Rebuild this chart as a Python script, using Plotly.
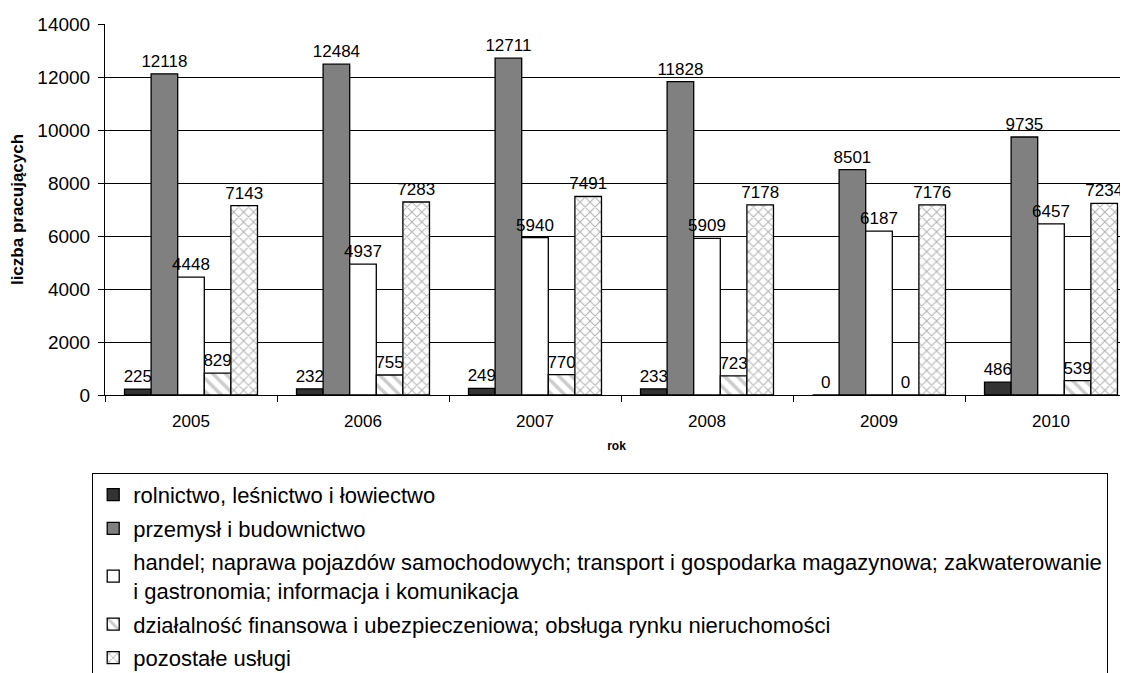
import plotly.graph_objects as go

years = ["2005", "2006", "2007", "2008", "2009", "2010"]
names = [
    "rolnictwo, leśnictwo i łowiectwo",
    "przemysł i budownictwo",
    "handel; naprawa pojazdów samochodowych; transport i gospodarka magazynowa; zakwaterowanie<br>i gastronomia; informacja i komunikacja",
    "działalność finansowa i ubezpieczeniowa; obsługa rynku nieruchomości",
    "pozostałe usługi",
]
rolnictwo = [225, 232, 249, 233, 0, 486]
przemysl = [12118, 12484, 12711, 11828, 8501, 9735]
handel = [4448, 4937, 5940, 5909, 6187, 6457]
finanse = [829, 755, 770, 723, 0, 539]
pozostale = [7143, 7283, 7491, 7178, 7176, 7234]
y_ticks = [0, 2000, 4000, 6000, 8000, 10000, 12000, 14000]

series = [rolnictwo, przemysl, handel, finanse, pozostale]
styles = [
    dict(color="#333333"),
    dict(color="#808080"),
    dict(color="#ffffff"),
    dict(color="#ffffff", pattern=dict(shape="\\", fgcolor="#9a9a9a", bgcolor="#ffffff", size=9, solidity=0.4)),
    dict(color="#ffffff", pattern=dict(shape="x", fgcolor="#666666", bgcolor="#ffffff", size=7, solidity=0.28)),
]

FONT = "Liberation Sans, Arial, sans-serif"

fig = go.Figure()
for i, (nm, vals, st) in enumerate(zip(names, series, styles)):
    fig.add_trace(go.Bar(
        x=years, y=vals, name=nm,
        legendgroup=f"g{i}",
        marker=dict(line=dict(color="#000000", width=1.3), **st),
        text=[str(v) for v in vals],
        textposition="outside",
        textfont=dict(size=17, color="#000000", family=FONT),
        constraintext="none",
        cliponaxis=False,
    ))

# page body has an 8px margin, so the figure is offset by 8px
fig.update_layout(
    width=1120, height=665,
    margin=dict(l=97, r=0, t=16, b=278, autoexpand=False),
    paper_bgcolor="#ffffff", plot_bgcolor="#ffffff",
    font=dict(family=FONT, color="#000000"),
    barmode="group", bargap=0.227, bargroupgap=0,
    showlegend=True,
    legend=dict(
        x=-0.0125, y=-0.21, xanchor="left", yanchor="top",
        bordercolor="#000000", borderwidth=1, bgcolor="#ffffff",
        font=dict(size=22, family=FONT, color="#000000"),
        tracegroupgap=2, traceorder="grouped",
        itemwidth=30,
    ),
)
fig.update_xaxes(
    type="category", range=[-0.5, -0.5 + 1023 / 172],
    tickson="boundaries", ticks="outside", ticklen=6, tickcolor="#000000",
    showline=True, linecolor="#000000", linewidth=1,
    showgrid=False, tickfont=dict(size=17, color="#000000"),
    ticklabelstandoff=11, automargin=False,
    title=dict(text="<b>rok</b>", font=dict(size=12, color="#000000"), standoff=11),
)
fig.update_yaxes(
    range=[0, 14000], tickvals=y_ticks, tickformat="d",
    ticks="outside", ticklen=6, tickcolor="#000000",
    showline=True, linecolor="#000000", linewidth=1,
    showgrid=True, gridcolor="#000000", gridwidth=1,
    zeroline=False, automargin=False,
    tickfont=dict(size=19, color="#000000"),
    ticklabelstandoff=4,
    title=dict(text="<b>liczba pracujących</b>", font=dict(size=17, color="#000000"), standoff=11),
)

fig.write_html("out.html")
